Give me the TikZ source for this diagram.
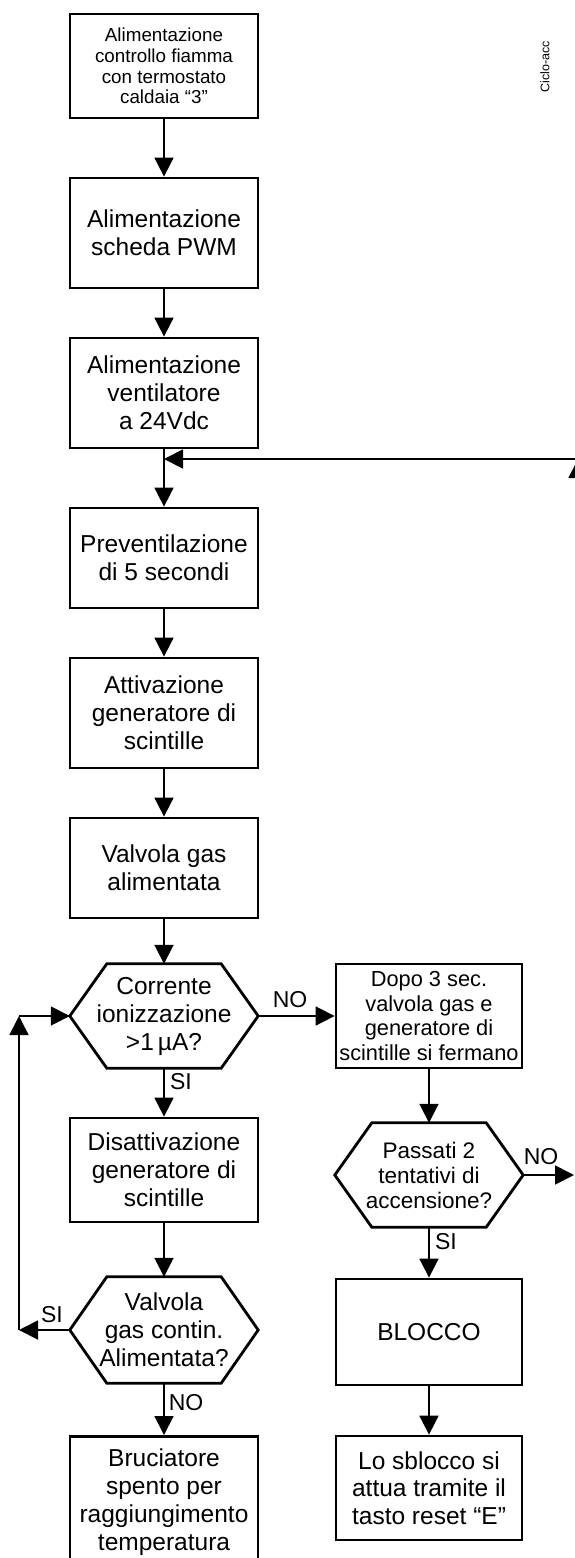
\documentclass[tikz,border=0pt]{standalone}
\usepackage{fontspec}
\setmainfont{Liberation Sans}
\usetikzlibrary{arrows.meta}
\newcommand{\hexdraw}[1]{\draw[hexline] (#1.west) -- ([xshift=37pt]#1.north west) -- ([xshift=-37pt]#1.north east) -- (#1.east) -- ([xshift=-37pt]#1.south east) -- ([xshift=37pt]#1.south west) -- cycle;}
\begin{document}
\begin{tikzpicture}[x=1pt,y=-1pt,
  box/.style={draw, line width=2.8pt, minimum width=188pt, inner sep=0pt, align=center,
    font=\fontsize{24.5pt}{28pt}\selectfont},
  hexbox/.style={rectangle, minimum width=188pt, inner sep=0pt, align=center,
    font=\fontsize{24.5pt}{28pt}\selectfont},
  hexline/.style={line width=2.8pt, line join=miter},
  arr/.style={line width=1.8pt, -{Triangle[length=19pt,width=19pt]}},
  lbl/.style={inner sep=0pt, font=\fontsize{23pt}{26pt}\selectfont}
]
\useasboundingbox (0,0) rectangle (574,1558);

% left column
\node[box, minimum height=104pt, font=\fontsize{18.8pt}{20.8pt}\selectfont] (b1) at (164,66)
  {Alimentazione\\controllo fiamma\\con termostato\\caldaia “3”};
\node[box, minimum height=110pt] (b2) at (164,233) {Alimentazione\\scheda PWM};
\node[box, minimum height=110pt] (b3) at (164,393) {Alimentazione\\ventilatore\\a 24Vdc};
\node[box, minimum height=100pt] (b4) at (164,558) {Preventilazione\\di 5 secondi};
\node[box, minimum height=110pt] (b5) at (164,713) {Attivazione\\generatore di\\scintille};
\node[box, minimum height=100pt] (b6) at (164,868) {Valvola gas\\alimentata};
\node[hexbox, minimum height=104pt] (h1) at (164,1016) {Corrente\\ionizzazione\\>1\,µA?};
\hexdraw{h1}
\node[box, minimum height=104pt] (b7) at (164,1170) {Disattivazione\\generatore di\\scintille};
\node[hexbox, minimum height=106pt] (h2) at (164,1330) {Valvola\\gas contin.\\Alimentata?};
\hexdraw{h2}
\node[box, minimum height=132pt, anchor=north] (b8) at (164,1435)
  {Bruciatore\\spento per\\raggiungimento\\temperatura};

% right column
\node[box, minimum width=186pt, minimum height=104pt, font=\fontsize{21.8pt}{24.5pt}\selectfont] (r1) at (429,1016)
  {Dopo 3 sec.\\valvola gas e\\generatore di\\scintille si fermano};
\node[hexbox, minimum height=104pt, font=\fontsize{22.5pt}{25pt}\selectfont] (h3) at (429,1175)
  {Passati 2\\tentativi di\\accensione?};
\hexdraw{h3}
\node[box, minimum width=186pt, minimum height=106pt] (r2) at (429,1332) {BLOCCO};
\node[box, minimum width=186pt, minimum height=104pt, font=\fontsize{24.5pt}{27.5pt}\selectfont] (r3) at (429,1488)
  {Lo sblocco si\\attua tramite il\\tasto reset “E”};

% side note
\node[rotate=90, inner sep=0pt, font=\fontsize{12.5pt}{14pt}\selectfont] (note) at (545,67) {Ciclo-acc};

% connectors
\draw[arr] (b1) -- (b2);
\draw[arr] (b2) -- (b3);
\draw[arr] (b3) -- (b4);
\draw[arr] (b4) -- (b5);
\draw[arr] (b5) -- (b6);
\draw[arr] (b6) -- (h1.north);
\draw[arr] (h1.south) -- (b7);
\draw[arr] (b7) -- (h2.north);
\draw[arr] (h2.south) -- (b8);
\draw[arr] (h1.east) -- (r1);
\draw[arr] (r1) -- (h3.north);
\draw[arr] (h3.south) -- (r2);
\draw[arr] (r2) -- (r3);

% loop SI
\coordinate (lb) at (19,1330);
\coordinate (lt) at (19,1016);
\draw[arr] (h2.west) -- (lb);
\draw[arr] (lb) -- (lt);
\draw[arr] (lt) -- (h1.west);

% NO from h3 to the right edge
\coordinate (noR) at (574,1175);
\draw[arr] (h3.east) -- (noR);

% return line at top
\coordinate (fbB) at (578,540);
\coordinate (fbR) at (578,459);
\coordinate (fbL) at (164,459);
\draw[arr] (fbB) -- (fbR);
\draw[arr] (fbR) -- (fbL);

% labels
\node[lbl] (siA) at (181,1082) {SI};
\node[lbl] (noA) at (290,1000) {NO};
\node[lbl] (siB) at (52,1315) {SI};
\node[lbl] (noB) at (186,1403) {NO};
\node[lbl] (noC) at (541,1157) {NO};
\node[lbl] (siC) at (446,1242) {SI};
\end{tikzpicture}
\end{document}
